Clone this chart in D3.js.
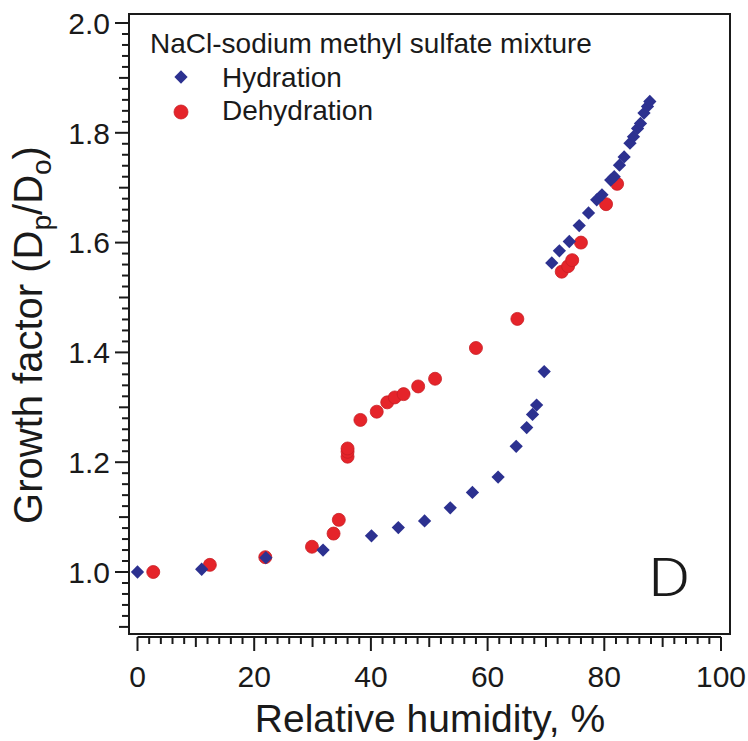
<!DOCTYPE html>
<html>
<head>
<meta charset="utf-8">
<script src="https://cdn.jsdelivr.net/npm/d3@7"></script>
<style>
  body { margin: 0; background: #fff; }
  svg text { font-family: "Liberation Sans", Arial, sans-serif; fill: #1a1a1a; }
</style>
</head>
<body>
<div class="plot"></div>
<script>
// hydration (blue diamonds)
const hydRH = [0, 11, 22, 31.8, 40.1, 44.7, 49.2, 53.6, 57.4, 61.8, 64.9, 66.7, 67.7, 68.4, 69.7,
  71.0, 72.3, 74.0, 75.7, 77.3, 78.7, 79.6, 81.1, 81.7, 82.6, 83.4, 84.4, 85.0, 85.7, 86.2, 86.8, 87.4, 87.8];
const hydGF = [1.000, 1.005, 1.026, 1.040, 1.066, 1.081, 1.093, 1.117, 1.145, 1.173, 1.229, 1.263, 1.287, 1.304, 1.365,
  1.563, 1.585, 1.602, 1.631, 1.654, 1.678, 1.687, 1.714, 1.720, 1.741, 1.756, 1.781, 1.793, 1.808, 1.817, 1.836, 1.848, 1.857];

// dehydration (red circles)
const dehRH = [2.7, 12.4, 21.9, 29.9, 33.6, 34.5, 36.0, 36.0, 36.0, 38.2, 41.0, 42.8, 44.1, 45.6, 48.1, 51.0,
  58.0, 65.1, 72.7, 73.8, 74.5, 76.0, 80.3, 82.2];
const dehGF = [1.000, 1.013, 1.027, 1.046, 1.070, 1.095, 1.210, 1.219, 1.225, 1.277, 1.292, 1.309, 1.318, 1.324, 1.338, 1.352,
  1.408, 1.461, 1.547, 1.557, 1.568, 1.600, 1.670, 1.707];

const xTicks = [0, 20, 40, 60, 80, 100];
const yTicks = [1.0, 1.2, 1.4, 1.6, 1.8, 2.0];
const seriesNames = ["Hydration", "Dehydration"];
const legendTitle = "NaCl-sodium methyl sulfate mixture";

const width = 748, height = 741;
const blue = "#2c3190", red = "#e5242a";

const xScale = d3.scaleLinear().domain([0, 100]).range([137.5, 721]);
const yScale = d3.scaleLinear().domain([1.0, 2.0]).range([572, 23]);

const svg = d3.select('.plot')
  .append('svg')
  .attr('width', width)
  .attr('height', height);

// frame
const fx0 = 129, fx1 = 730, fy0 = 14, fy1 = 634;
svg.append('rect')
  .attr('x', fx0).attr('y', fy0)
  .attr('width', fx1 - fx0).attr('height', fy1 - fy0)
  .attr('fill', 'none').attr('stroke', '#1a1a1a').attr('stroke-width', 2);

// x axis, offset a little below the frame
const xMinor = d3.range(0, 100.01, 2);
const xAxisY = 637;
const gx = svg.append('g').attr('class', 'xAxis');
gx.append('line')
  .attr('x1', xScale(0)).attr('x2', xScale(100))
  .attr('y1', xAxisY).attr('y2', xAxisY)
  .attr('stroke', '#1a1a1a').attr('stroke-width', 2);
gx.selectAll('.tick')
  .data(xMinor)
  .enter().append('line')
  .attr('x1', d => xScale(d)).attr('x2', d => xScale(d))
  .attr('y1', xAxisY)
  .attr('y2', d => xAxisY + (d % 20 === 0 ? 14 : d % 10 === 0 ? 10 : 7))
  .attr('stroke', '#1a1a1a').attr('stroke-width', 2);
gx.selectAll('.lbl')
  .data(xTicks)
  .enter().append('text')
  .attr('x', d => xScale(d)).attr('y', 687)
  .attr('text-anchor', 'middle')
  .attr('font-size', 30)
  .text(d => d);

// y axis on the left frame edge
const yMinor = d3.range(90, 201, 2).map(d => d / 100);
const gy = svg.append('g').attr('class', 'yAxis');
gy.selectAll('.tick')
  .data(yMinor)
  .enter().append('line')
  .attr('x1', fx0)
  .attr('x2', d => {
    const k = Math.round(d * 100);
    return fx0 - (k % 20 === 0 ? 14 : k % 10 === 0 ? 10 : 7);
  })
  .attr('y1', d => yScale(d)).attr('y2', d => yScale(d))
  .attr('stroke', '#1a1a1a').attr('stroke-width', 2);
gy.selectAll('.lbl')
  .data(yTicks)
  .enter().append('text')
  .attr('x', 110).attr('y', d => yScale(d))
  .attr('dy', '0.36em')
  .attr('text-anchor', 'end')
  .attr('font-size', 30)
  .text(d => d.toFixed(1));

// axis titles
svg.append('text')
  .attr('x', 430).attr('y', 732)
  .attr('text-anchor', 'middle')
  .attr('font-size', 39)
  .text('Relative humidity, %');

const yl = svg.append('text')
  .attr('transform', 'translate(42,335) rotate(-90)')
  .attr('text-anchor', 'middle')
  .attr('font-size', 40);
yl.append('tspan').text('Growth factor (D');
yl.append('tspan').attr('font-size', 28).attr('dy', 9).text('p');
yl.append('tspan').attr('dy', -9).text('/D');
yl.append('tspan').attr('font-size', 28).attr('dy', 9).text('o');
yl.append('tspan').attr('dy', -9).text(')');

// markers
const diamond = d3.symbol().type(d3.symbolSquare).size(88);

svg.append('g').selectAll('circle')
  .data(dehRH.map((d, i) => ({rh: d, gf: dehGF[i]})))
  .enter().append('circle')
  .attr('cx', d => xScale(d.rh))
  .attr('cy', d => yScale(d.gf))
  .attr('r', 6.5)
  .attr('fill', red)
  .attr('stroke', '#c81e24').attr('stroke-width', 0.8);

svg.append('g').selectAll('path')
  .data(hydRH.map((d, i) => ({rh: d, gf: hydGF[i]})))
  .enter().append('path')
  .attr('d', diamond)
  .attr('transform', d => `translate(${xScale(d.rh)},${yScale(d.gf)}) rotate(45)`)
  .attr('fill', blue);

// legend
const lg = svg.append('g').attr('class', 'legend');
lg.append('text').attr('x', 150).attr('y', 53).attr('font-size', 28).text(legendTitle);
lg.append('path').attr('d', diamond).attr('transform', 'translate(181,77) rotate(45)').attr('fill', blue);
lg.append('circle').attr('cx', 181).attr('cy', 112).attr('r', 7).attr('fill', red)
  .attr('stroke', '#c81e24').attr('stroke-width', 0.8);
lg.selectAll('.entry')
  .data(seriesNames)
  .enter().append('text')
  .attr('x', 222).attr('y', (d, i) => 87 + i * 33)
  .attr('font-size', 28)
  .text(d => d);

// panel letter (thin face, a bit wider)
svg.append('text')
  .attr('transform', 'translate(648,596) scale(1.2,1)')
  .attr('font-size', 54)
  .attr('font-weight', 300)
  .style('font-family', 'Roboto, sans-serif')
  .text('D');
</script>
</body>
</html>
